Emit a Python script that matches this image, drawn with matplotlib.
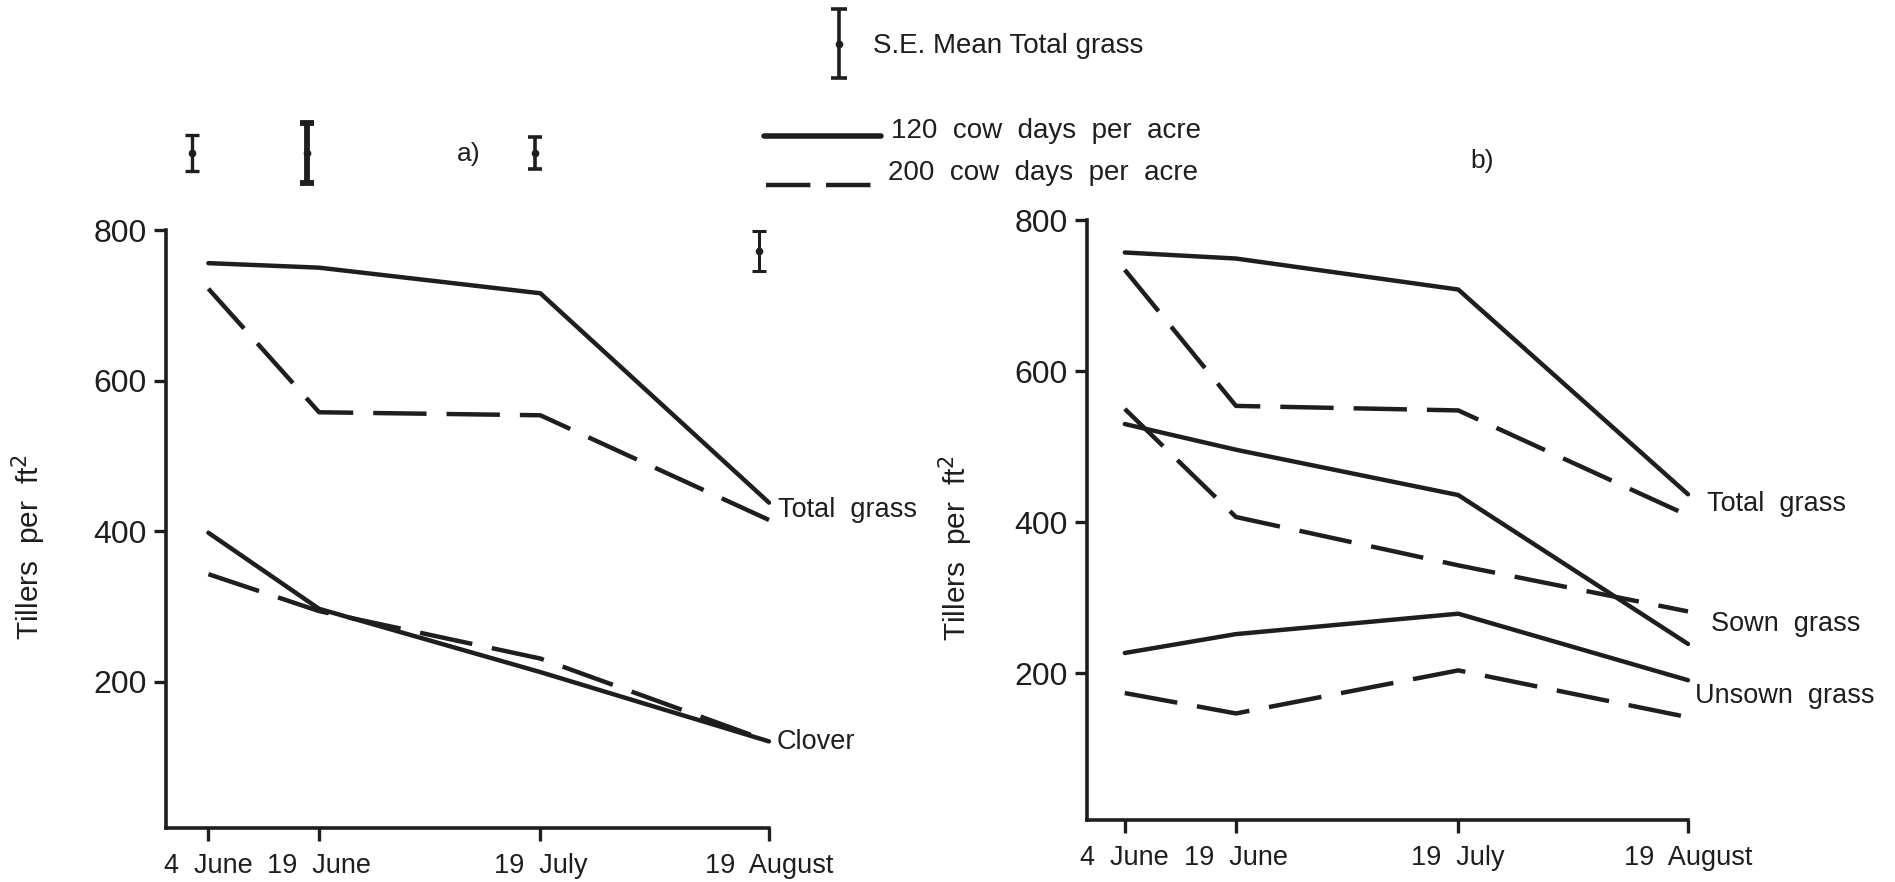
import matplotlib.pyplot as plt
from matplotlib.lines import Line2D

# ---------------------------------------------------------------------------
# DATA  (tillers per ft^2)
# ---------------------------------------------------------------------------
days = [0, 15, 45, 76]                      # days after 4 June
date_labels = ["4  June", "19  June", "19  July", "19  August"]

# a) total grass and clover
a_total_120 = [756, 750, 716, 438]
a_total_200 = [722, 558, 554, 415]
a_clover_120 = [398, 297, 213, 121]
a_clover_200 = [343, 294, 231, 121]

# b) total, sown and unsown grass
b_total_120 = [757, 749, 708, 437]
b_total_200 = [734, 554, 548, 409]
b_sown_120 = [530, 496, 436, 239]
b_sown_200 = [550, 407, 343, 282]
b_unsown_120 = [227, 252, 279, 191]
b_unsown_200 = [174, 147, 204, 142]

# S.E. bars shown above panel a
se_days = [-2.2, 13.3, 44.3, 74.7]
se_centre = [902, 902, 902, 772]
se_half = [24, 40, 21, 27]

# ---------------------------------------------------------------------------
# STYLE
# ---------------------------------------------------------------------------
FONT = ["Liberation Sans", "DejaVu Sans"]
plt.rcParams["font.family"] = FONT
INK = "#1e1e1e"
LW = 3.2
DASH = (0, (12, 4.5))

W, H = 1895, 882
fig = plt.figure(figsize=(W / 100, H / 100), dpi=100)


def px_axes(left, right, top, bottom):
    return fig.add_axes([left / W, 1 - bottom / H,
                         (right - left) / W, (bottom - top) / H])


ax_a = px_axes(166, 769, 230, 828)
ax_b = px_axes(1087, 1688, 220, 820)


def style(ax, xlim):
    ax.set_xlim(*xlim)
    ax.set_ylim(6, 800)
    for s in ("top", "right"):
        ax.spines[s].set_visible(False)
    for s in ("left", "bottom"):
        ax.spines[s].set_linewidth(2.6)
        ax.spines[s].set_color(INK)
    ax.set_yticks([200, 400, 600, 800])
    ax.set_xticks(days)
    ax.set_xticklabels(date_labels)
    ax.tick_params(length=9, width=2.4, labelsize=23, colors=INK, pad=5)
    ax.tick_params(axis="x", labelsize=19.5, pad=9)
    ax.set_ylabel("Tillers  per  ft$^2$", fontsize=21.5, color=INK)


style(ax_a, (-5.75, 76))
style(ax_b, (-5.1, 76))
ax_a.yaxis.set_label_coords(-0.195, 0.47)
ax_b.yaxis.set_label_coords(-0.186, 0.453)


def pair(ax, solid, dashed):
    ax.plot(days, solid, color=INK, lw=LW, solid_capstyle="round",
            solid_joinstyle="round", clip_on=False)
    ax.plot(days, dashed, color=INK, lw=LW, ls=DASH, clip_on=False)


pair(ax_a, a_total_120, a_total_200)
pair(ax_a, a_clover_120, a_clover_200)
pair(ax_b, b_total_120, b_total_200)
pair(ax_b, b_sown_120, b_sown_200)
pair(ax_b, b_unsown_120, b_unsown_200)

lab = dict(fontsize=19.5, color=INK, va="center", ha="left", clip_on=False)
ax_a.text(77.2, 428, "Total  grass", **lab)
ax_a.text(77.0, 120, "Clover", **lab)
ax_b.text(78.5, 424, "Total  grass", **lab)
ax_b.text(79.1, 266, "Sown  grass", **lab)
ax_b.text(77.0, 170, "Unsown  grass", **lab)

# S.E. bars
for xd, yc, h, w in zip(se_days, se_centre, se_half, [2.4, 4.2, 2.6, 2.2]):
    cont = ax_a.errorbar([xd], [yc], yerr=[h], fmt="o", ms=4.5, color=INK,
                         elinewidth=w, capsize=5, capthick=w)
    for art in cont.get_children():
        art.set_clip_on(False)

# ---------------------------------------------------------------------------
# KEY AND PANEL LETTERS  (pixel overlay)
# ---------------------------------------------------------------------------
ov = fig.add_axes([0, 0, 1, 1])
ov.set_xlim(0, W)
ov.set_ylim(H, 0)
ov.axis("off")

ov.errorbar([839], [43.5], yerr=[34.5], fmt="o", ms=4.5, color=INK,
            elinewidth=2.6, capsize=6, capthick=2.6)
ov.text(873, 46, "S.E. Mean Total grass", fontsize=20,
        color=INK, va="center", ha="left")
ov.add_line(Line2D([764, 881], [136, 136], color=INK, lw=LW + 0.8,
                   solid_capstyle="round"))
ov.add_line(Line2D([766, 881], [185, 185], color=INK, lw=LW, ls=(0, (10, 3.5))))
ov.text(891, 131, "120  cow  days  per  acre", fontsize=20,
        color=INK, va="center", ha="left")
ov.text(888, 173, "200  cow  days  per  acre", fontsize=20,
        color=INK, va="center", ha="left")
ov.text(457, 154, "a)", fontsize=19, color=INK, va="center", ha="left")
ov.text(1470, 161, "b)", fontsize=19, color=INK, va="center", ha="left")

fig.savefig("out.png", dpi=100)
